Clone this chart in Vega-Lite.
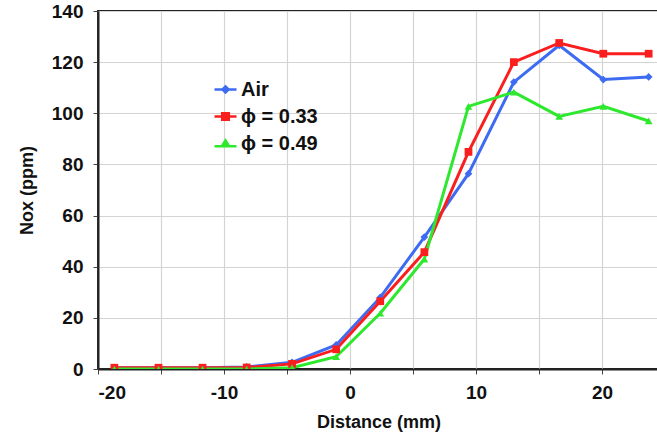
{
  "$schema": "https://vega.github.io/schema/vega-lite/v6.json",
  "autosize": "none",
  "width": 561,
  "height": 358,
  "padding": {"left": 98, "top": 11, "right": 0, "bottom": 71},
  "config": {
    "view": {"stroke": "#222", "strokeWidth": 2},
    "font": "Liberation Sans",
    "axis": {
      "labelFont": "Liberation Sans", "labelFontWeight": "bold", "labelFontSize": 19, "labelColor": "#111",
      "titleFont": "Liberation Sans", "titleFontWeight": "bold", "titleFontSize": 18, "titleColor": "#111",
      "gridColor": "#d4d4d4", "gridWidth": 1.2,
      "domainColor": "#222", "domainWidth": 2, "tickColor": "#444", "tickSize": 5
    }
  },
  "data": {"values": [
    {"x": -18.7, "nox": 0.5, "s": "Air"}, {"x": -15.2, "nox": 0.5, "s": "Air"}, {"x": -11.7, "nox": 0.5, "s": "Air"},
    {"x": -8.2, "nox": 0.8, "s": "Air"}, {"x": -4.6, "nox": 2.6, "s": "Air"}, {"x": -1.1, "nox": 9.4, "s": "Air"},
    {"x": 2.4, "nox": 28, "s": "Air"}, {"x": 5.9, "nox": 51.6, "s": "Air"}, {"x": 9.4, "nox": 76.4, "s": "Air"},
    {"x": 13.0, "nox": 112.2, "s": "Air"}, {"x": 16.6, "nox": 126.6, "s": "Air"}, {"x": 20.1, "nox": 113.2, "s": "Air"},
    {"x": 23.7, "nox": 114.2, "s": "Air"},
    {"x": -18.7, "nox": 0.5, "s": "ϕ = 0.33"}, {"x": -15.2, "nox": 0.5, "s": "ϕ = 0.33"}, {"x": -11.7, "nox": 0.5, "s": "ϕ = 0.33"},
    {"x": -8.2, "nox": 0.6, "s": "ϕ = 0.33"}, {"x": -4.6, "nox": 2.0, "s": "ϕ = 0.33"}, {"x": -1.1, "nox": 7.7, "s": "ϕ = 0.33"},
    {"x": 2.4, "nox": 26.5, "s": "ϕ = 0.33"}, {"x": 5.9, "nox": 45.7, "s": "ϕ = 0.33"}, {"x": 9.4, "nox": 84.9, "s": "ϕ = 0.33"},
    {"x": 13.0, "nox": 120, "s": "ϕ = 0.33"}, {"x": 16.6, "nox": 127.5, "s": "ϕ = 0.33"}, {"x": 20.1, "nox": 123.3, "s": "ϕ = 0.33"},
    {"x": 23.7, "nox": 123.3, "s": "ϕ = 0.33"},
    {"x": -18.7, "nox": 0, "s": "ϕ = 0.49"}, {"x": -15.2, "nox": 0, "s": "ϕ = 0.49"}, {"x": -11.7, "nox": 0, "s": "ϕ = 0.49"},
    {"x": -8.2, "nox": 0, "s": "ϕ = 0.49"}, {"x": -4.6, "nox": 0.5, "s": "ϕ = 0.49"}, {"x": -1.1, "nox": 4.8, "s": "ϕ = 0.49"},
    {"x": 2.4, "nox": 21.8, "s": "ϕ = 0.49"}, {"x": 5.9, "nox": 43, "s": "ϕ = 0.49"}, {"x": 9.4, "nox": 102.7, "s": "ϕ = 0.49"},
    {"x": 13.0, "nox": 108.3, "s": "ϕ = 0.49"}, {"x": 16.6, "nox": 98.8, "s": "ϕ = 0.49"}, {"x": 20.1, "nox": 102.7, "s": "ϕ = 0.49"},
    {"x": 23.7, "nox": 97, "s": "ϕ = 0.49"}
  ]},
  "encoding": {
    "x": {"field": "x", "type": "quantitative",
      "scale": {"domain": [-20, 24.52], "nice": false, "zero": false},
      "axis": {"title": "Distance (mm)", "values": [-20, -15, -10, -5, 0, 5, 10, 15, 20],
        "labelExpr": "datum.value % 10 === 0 ? '' + datum.value : ''", "titlePadding": 11, "labelPadding": 9}},
    "y": {"field": "nox", "type": "quantitative",
      "scale": {"domain": [0, 140], "nice": false},
      "axis": {"title": "Nox (ppm)", "values": [0, 20, 40, 60, 80, 100, 120, 140], "titlePadding": 15, "labelPadding": 10}},
    "color": {"field": "s", "type": "nominal",
      "scale": {"domain": ["Air", "ϕ = 0.33", "ϕ = 0.49"], "range": ["#3d6cf2", "#fa1e1e", "#2ee82e"]},
      "legend": {"title": null, "orient": "none", "legendX": 115, "legendY": 66, "padding": 0,
        "labelFont": "Liberation Sans", "labelFontWeight": "bold", "labelFontSize": 20, "labelColor": "#111",
        "rowPadding": 4, "symbolSize": 484, "symbolStrokeWidth": 2, "labelOffset": 3,
        "symbolType": "M-1,0H1",
        "encode": {"symbols": {"update": {
          "shape": {"signal": "datum.value === 'Air' ? 'M-1,0H1M0,-0.28L0.28,0L0,0.28L-0.28,0Z' : datum.value === 'ϕ = 0.33' ? 'M-1,0H1M-0.3,-0.3H0.3V0.3H-0.3Z' : 'M-1,0.25H1M0,-0.28L0.33,0.25H-0.33Z'"},
          "fill": {"scale": "color", "field": "value"},
          "stroke": {"scale": "color", "field": "value"},
          "strokeWidth": {"value": 2.5},
          "opacity": {"value": 1}
        }}}}
    }
  },
  "layer": [
    {"mark": {"type": "line", "strokeWidth": 3, "clip": true}},
    {"transform": [{"filter": "datum.s === 'Air'"}],
     "mark": {"type": "point", "shape": "diamond", "filled": true, "opacity": 1, "size": 60, "clip": true}},
    {"transform": [{"filter": "datum.s === 'ϕ = 0.33'"}],
     "mark": {"type": "point", "shape": "square", "filled": true, "opacity": 1, "size": 60, "clip": true}},
    {"transform": [{"filter": "datum.s === 'ϕ = 0.49'"}],
     "mark": {"type": "point", "shape": "triangle-up", "filled": true, "opacity": 1, "size": 60, "clip": true}}
  ]
}
